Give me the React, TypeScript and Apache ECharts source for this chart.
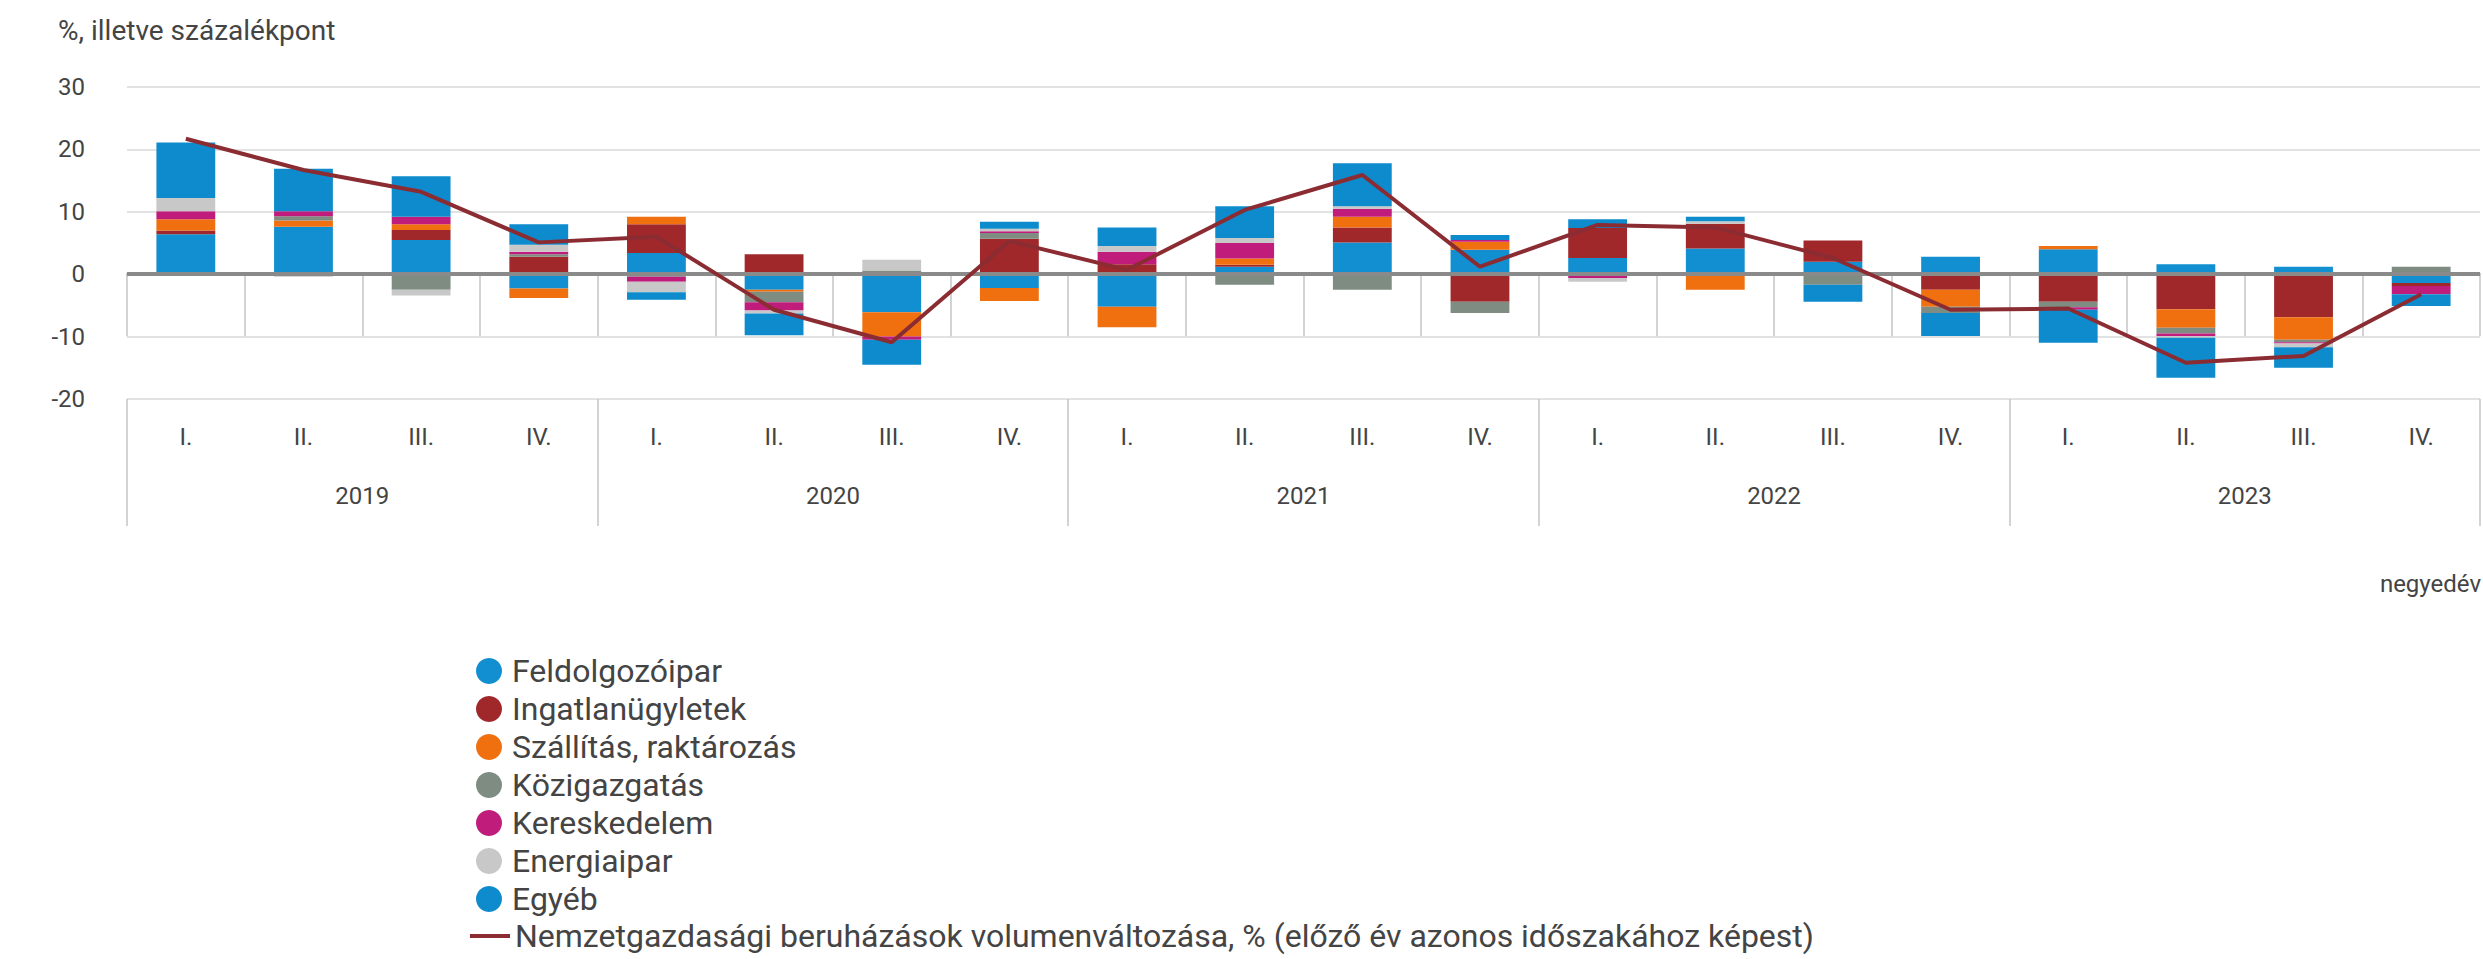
import React, { useEffect, useRef } from "react";
import * as echarts from "echarts";

const quarters = ["I.", "II.", "III.", "IV.", "I.", "II.", "III.", "IV.", "I.", "II.", "III.", "IV.", "I.", "II.", "III.", "IV.", "I.", "II.", "III.", "IV."];
const years = ["2019", "2020", "2021", "2022", "2023"];

const feldolgozoipar = [6.4, 7.6, 5.5, -2.3, 3.4, -2.5, -6.1, -2.2, -5.2, 1.2, 5.1, 3.9, 2.6, 4.1, 2.0, 2.8, 4.0, 1.6, 1.2, -1.4];
const ingatlan = [0.6, 0, 1.6, 2.8, 4.6, 3.2, 0, 5.7, 1.6, 0.3, 2.4, -4.4, 4.8, 4.0, 3.4, -2.5, -4.4, -5.6, -6.9, -0.5];
const szallitas = [1.8, 1.0, 0.9, -1.5, 1.2, -0.3, -3.9, -2.1, -3.3, 1.0, 1.7, 1.3, 0, -2.5, 0, -2.7, 0.5, -3.0, -3.6, 0];
const kozigazgatas = [0, 0.7, -2.5, 0.4, -0.4, -1.7, 0.6, 0.9, 0, -1.7, -2.5, -1.8, 0, 0, -1.7, -1.0, -0.9, -0.9, -0.4, 1.2];
const kereskedelem = [1.3, 0.8, 1.2, 0.4, -0.8, -1.3, -0.5, 0.3, 2.0, 2.5, 1.3, 0.3, -0.6, 0, 0, 0, -0.4, -0.4, -0.2, -1.3];
const energiaipar = [2.1, -0.4, -0.9, 1.1, -1.7, -0.5, 1.7, 0.4, 0.9, 0.8, 0.4, 0, -0.6, 0.4, 0, 0, 0, -0.3, -0.6, 0];
const egyeb = [8.9, 6.8, 6.5, 3.3, -1.2, -3.5, -4.0, 1.1, 3.0, 5.1, 6.9, 0.8, 1.4, 0.7, -2.7, -3.7, -5.3, -6.4, -3.3, -1.9];
const osszesen = [21.7, 16.7, 13.2, 5.1, 6.0, -5.7, -10.9, 5.3, 0.7, 10.3, 15.9, 1.2, 7.9, 7.5, 2.6, -5.7, -5.5, -14.2, -13.1, -3.2];

const barSeries = [
  { name: "Feldolgozóipar", data: feldolgozoipar, color: "#128fd0" },
  { name: "Ingatlanügyletek", data: ingatlan, color: "#a0282b" },
  { name: "Szállítás, raktározás", data: szallitas, color: "#f07010" },
  { name: "Közigazgatás", data: kozigazgatas, color: "#7e8c82" },
  { name: "Kereskedelem", data: kereskedelem, color: "#c01c7c" },
  { name: "Energiaipar", data: energiaipar, color: "#c8c8c8" },
  { name: "Egyéb", data: egyeb, color: "#0e8bcc" },
];
const lineName = "Nemzetgazdasági beruházások volumenváltozása, % (előző év azonos időszakához képest)";
const lineColor = "#8b2c33";

const FONT = "Roboto";
const TEXT = "#444";

export default function App() {
  const ref = useRef<HTMLDivElement>(null);
  useEffect(() => {
    if (!ref.current) return;
    const chart = echarts.init(ref.current, undefined, { renderer: "svg" });
    chart.setOption({
      animation: false,
      backgroundColor: "#ffffff",
      textStyle: { fontFamily: FONT },
      title: {
        text: "%, illetve százalékpont",
        left: 53,
        top: 11,
        textStyle: { fontFamily: FONT, fontSize: 28, fontWeight: "normal", color: TEXT },
      },
      grid: { left: 127, right: 3, top: 87, bottom: 560, containLabel: false },
      legend: [
        {
          orient: "vertical",
          left: 471,
          top: 650,
          itemWidth: 26,
          itemHeight: 26,
          itemGap: 6,
          icon: "circle",
          data: barSeries.map((s) => s.name),
          textStyle: { fontFamily: FONT, fontSize: 32, color: TEXT, padding: [0, 0, 0, 5] },
        },
        {
          orient: "vertical",
          left: 465,
          top: 915,
          itemWidth: 40,
          itemHeight: 4,
          icon: "rect",
          data: [lineName],
          textStyle: { fontFamily: FONT, fontSize: 32, color: TEXT },
        },
      ],
      xAxis: [
        {
          type: "category",
          data: quarters,
          position: "bottom",
          axisLine: { show: true, lineStyle: { color: "#bdbdbd", width: 2 } },
          axisTick: { show: true, interval: 0, length: 62, lineStyle: { color: "#c4c4c4", width: 1.5 } },
          axisLabel: { interval: 0, margin: 26, fontSize: 24, color: TEXT, fontFamily: FONT },
        },
        {
          type: "category",
          data: years,
          position: "bottom",
          axisLine: { show: false },
          axisTick: { show: true, interval: 0, length: 127, lineStyle: { color: "#c4c4c4", width: 1.5 } },
          axisLabel: { interval: 0, margin: 85, fontSize: 24, color: TEXT, fontFamily: FONT },
        },
      ],
      yAxis: {
        type: "value",
        min: -20,
        max: 30,
        interval: 10,
        axisLine: { show: false },
        axisTick: { show: false },
        axisLabel: { fontSize: 24, color: TEXT, margin: 42, fontFamily: FONT },
        splitLine: { lineStyle: { color: "#e2e2e2", width: 2 } },
      },
      graphic: [
        {
          type: "text",
          right: 2,
          top: 572,
          style: { text: "negyedév", fontSize: 24, fontFamily: FONT, fill: TEXT },
        },
      ],
      series: [
        ...barSeries.map((s) => ({
          name: s.name,
          type: "bar",
          stack: "total",
          xAxisIndex: 0,
          barWidth: "50%",
          itemStyle: { color: s.color },
          data: s.data,
        })),
        {
          name: lineName,
          type: "line",
          xAxisIndex: 0,
          data: osszesen,
          symbol: "none",
          z: 5,
          itemStyle: { color: lineColor },
          lineStyle: { color: lineColor, width: 4 },
          markLine: {
            silent: true,
            symbol: ["none", "none"],
            label: { show: false },
            lineStyle: { color: "#8a8a8a", width: 4, type: "solid" },
            data: [{ yAxis: 0 }],
            z: 4,
          },
        },
      ],
    });
    return () => chart.dispose();
  }, []);
  return <div ref={ref} style={{ position: "fixed", left: 0, top: 0, width: 2483, height: 959 }} />;
}
